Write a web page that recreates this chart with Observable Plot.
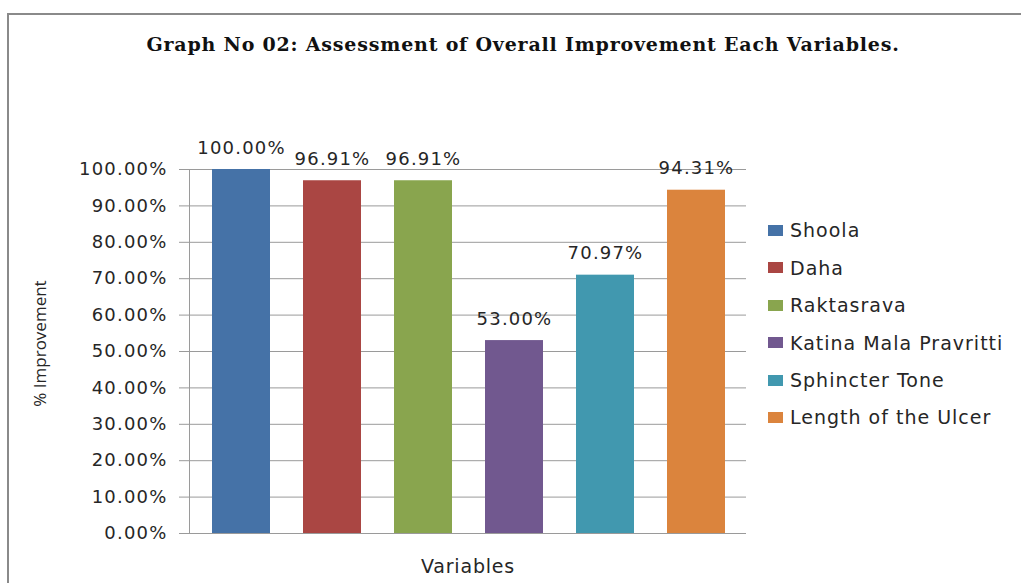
<!DOCTYPE html>
<html>
<head>
<meta charset="utf-8">
<script src="https://cdn.jsdelivr.net/npm/d3@7"></script>
<script src="https://cdn.jsdelivr.net/npm/@observablehq/plot@0.6"></script>
<style>
  html, body { margin: 0; padding: 0; background: #fff; }
  #wrap { position: relative; width: 1021px; height: 583px; overflow: hidden; }
  #border { position: absolute; left: 7px; top: 13px; width: 1014px; height: 580px;
            border-top: 2px solid #8a8a8a; border-left: 2px solid #8a8a8a; box-sizing: border-box; }
  #chart { position: absolute; left: 0; top: 0; }
  .lbl text { letter-spacing: 1.2px; }
  .xlab text { letter-spacing: 0.8px; }
  .ttl text { letter-spacing: 0.8px; }
  #legend { position: absolute; left: 768px; top: 211.8px; font-family: "DejaVu Sans", sans-serif;
            font-size: 19px; letter-spacing: 1px; color: #262626; }
  .item { display: flex; align-items: center; height: 37.4px; white-space: nowrap; }
  .sw { width: 15px; height: 11px; margin-right: 7px; flex: none; }
</style>
</head>
<body>
<div id="wrap">
  <div id="border"></div>
  <div id="chart"></div>
  <div id="legend"></div>
</div>
<script>
const categories = ["Shoola", "Daha", "Raktasrava", "Katina Mala Pravritti", "Sphincter Tone", "Length of the Ulcer"];
const values = [1.0, 0.9691, 0.9691, 0.53, 0.7097, 0.9431];
const colors = ["#4572A7", "#AA4643", "#89A54E", "#71588F", "#4198AF", "#DB843D"];
const yTicks = [0, 0.1, 0.2, 0.3, 0.4, 0.5, 0.6, 0.7, 0.8, 0.9, 1.0];
const titleText = "Graph No 02: Assessment of Overall Improvement Each Variables.";
const yLabel = "% Improvement";
const xLabel = "Variables";

const data = categories.map((name, i) => ({name, value: values[i]}));
const pct = d3.format(".2%");

const chart = Plot.plot({
  width: 1021,
  height: 583,
  marginLeft: 189,
  marginRight: 275,
  marginTop: 169,
  marginBottom: 50,
  style: {fontFamily: "DejaVu Sans, sans-serif", background: "transparent", overflow: "visible", color: "#262626"},
  x: {domain: categories, range: [195, 742], paddingInner: 0.365, paddingOuter: 0.1825, axis: null},
  y: {domain: [0, 1], axis: null},
  color: {domain: categories, range: colors},
  marks: [
    Plot.ruleY(yTicks, {stroke: "#9a9a9a", strokeWidth: 1}),
    Plot.frame({anchor: "left", stroke: "#9a9a9a"}),
    Plot.barY(data, {x: "name", y: "value", fill: "name"}),
    Plot.axisY({ticks: yTicks, tickFormat: ".2%", tickSize: 10, tickPadding: 12, stroke: "#9a9a9a",
                fill: "#262626", fontSize: 18, label: null, className: "lbl"}),
    Plot.text(data, {x: "name", y: "value", text: d => pct(d.value), dy: -21.5, fontSize: 18,
                     fill: "#262626", className: "lbl"}),
    Plot.text([yLabel], {frameAnchor: "left", textAnchor: "middle", lineAnchor: "middle", rotate: -90,
                         dx: -149, dy: -8, fontFamily: "Open Sans, sans-serif", fontSize: 17, fill: "#262626"}),
    Plot.text([xLabel], {frameAnchor: "bottom", lineAnchor: "middle", dy: 33.7, fontSize: 19, fill: "#262626",
                         className: "xlab"}),
    Plot.text([titleText], {frameAnchor: "top", lineAnchor: "middle", dy: -124.5, dx: 55, fontFamily: "DejaVu Serif",
                            fontWeight: "bold", fontSize: 19, fill: "#111", className: "ttl"})
  ]
});
document.getElementById("chart").appendChild(chart);

const legend = d3.select("#legend");
const items = legend.selectAll("div.item").data(categories).join("div").attr("class", "item");
items.append("div").attr("class", "sw").style("background", (d, i) => colors[i]);
items.append("span").text(d => d);
</script>
</body>
</html>
